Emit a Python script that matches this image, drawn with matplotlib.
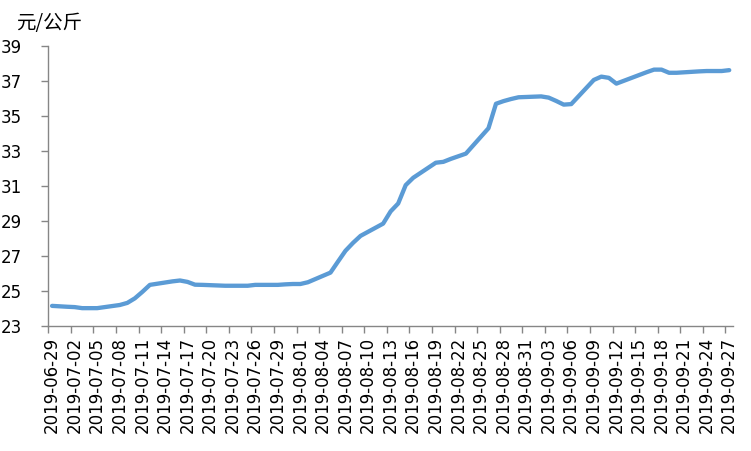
import matplotlib
matplotlib.use("Agg")
import matplotlib.pyplot as plt
import pandas as pd
import numpy as np

dates = ["2019-06-29", "2019-07-01", "2019-07-02", "2019-07-03", "2019-07-04", "2019-07-05",
         "2019-07-08", "2019-07-09", "2019-07-10", "2019-07-11", "2019-07-12",
         "2019-07-15", "2019-07-16", "2019-07-17", "2019-07-18", "2019-07-19",
         "2019-07-22", "2019-07-23", "2019-07-24", "2019-07-25", "2019-07-26",
         "2019-07-29", "2019-07-30", "2019-07-31", "2019-08-01", "2019-08-02",
         "2019-08-05", "2019-08-06", "2019-08-07", "2019-08-08", "2019-08-09",
         "2019-08-12", "2019-08-13", "2019-08-14", "2019-08-15", "2019-08-16",
         "2019-08-19", "2019-08-20", "2019-08-21", "2019-08-22", "2019-08-23",
         "2019-08-26", "2019-08-27", "2019-08-28", "2019-08-29", "2019-08-30",
         "2019-09-02", "2019-09-03", "2019-09-04", "2019-09-05", "2019-09-06",
         "2019-09-09", "2019-09-10", "2019-09-11", "2019-09-12",
         "2019-09-16", "2019-09-17", "2019-09-18", "2019-09-19", "2019-09-20",
         "2019-09-23", "2019-09-24", "2019-09-25", "2019-09-26", "2019-09-27"]
prices = [24.15, 24.10, 24.08, 24.02, 24.02, 24.02,
          24.20, 24.32, 24.58, 24.95, 25.35,
          25.55, 25.60, 25.52, 25.36, 25.35,
          25.30, 25.30, 25.30, 25.30, 25.35,
          25.35, 25.38, 25.40, 25.40, 25.50,
          26.05, 26.68, 27.30, 27.75, 28.15,
          28.85, 29.55, 30.00, 31.05, 31.47,
          32.33, 32.38, 32.55, 32.70, 32.85,
          34.30, 35.70, 35.85, 35.97, 36.07,
          36.12, 36.05, 35.86, 35.65, 35.68,
          37.06, 37.25, 37.18, 36.85,
          37.50, 37.65, 37.65, 37.47, 37.47,
          37.55, 37.57, 37.57, 37.57, 37.62]
axis_start = "2019-06-29"
axis_end = "2019-09-27"
tick_step_days = 3
y_ticks = [23, 25, 27, 29, 31, 33, 35, 37, 39]
unit_label = "元/公斤"

start = pd.Timestamp(axis_start)
end = pd.Timestamp(axis_end)
xd = np.array([(pd.Timestamp(d) - start).days for d in dates]) + 0.5
n_days = (end - start).days + 1
tick_dates = pd.date_range(start, end, freq=f"{tick_step_days}D")
tick_pos = np.array([(t - start).days for t in tick_dates])

fig = plt.figure(figsize=(7.51, 4.51), dpi=100)
ax = fig.add_axes([48.3 / 751, 1 - 326 / 451, (733 - 48.3) / 751, (326 - 46) / 451])

ax.plot(xd, prices, color="#5B9BD5", lw=3.1, solid_joinstyle="round", solid_capstyle="round")

ax.set_xlim(0, n_days)
ax.set_ylim(y_ticks[0], y_ticks[-1])
ax.set_yticks(y_ticks)
ax.set_yticklabels([str(v) for v in y_ticks], fontsize=12, family="DejaVu Sans")

ax.set_xticks(tick_pos)
ax.set_xticklabels([])
ax.set_xticks(tick_pos + 0.5, minor=True)
ax.set_xticklabels([t.strftime("%Y-%m-%d") for t in tick_dates], minor=True,
                   rotation=90, fontsize=12, family="DejaVu Sans")

gray = "#868686"
for s in ["top", "right"]:
    ax.spines[s].set_visible(False)
for s in ["left", "bottom"]:
    ax.spines[s].set_color(gray)
    ax.spines[s].set_linewidth(1.0)

ax.tick_params(axis="x", which="major", length=5, width=1.0, color=gray, direction="out")
ax.tick_params(axis="x", which="minor", length=0, pad=8)
ax.tick_params(axis="y", which="major", length=5, width=1.0, color=gray, direction="out", pad=14)

fig.text(16 / 751, 1 - 23 / 451, unit_label, fontsize=14,
         family=["Noto Sans CJK SC", "DejaVu Sans"], va="center", ha="left")

fig.savefig("out.png", dpi=100)
